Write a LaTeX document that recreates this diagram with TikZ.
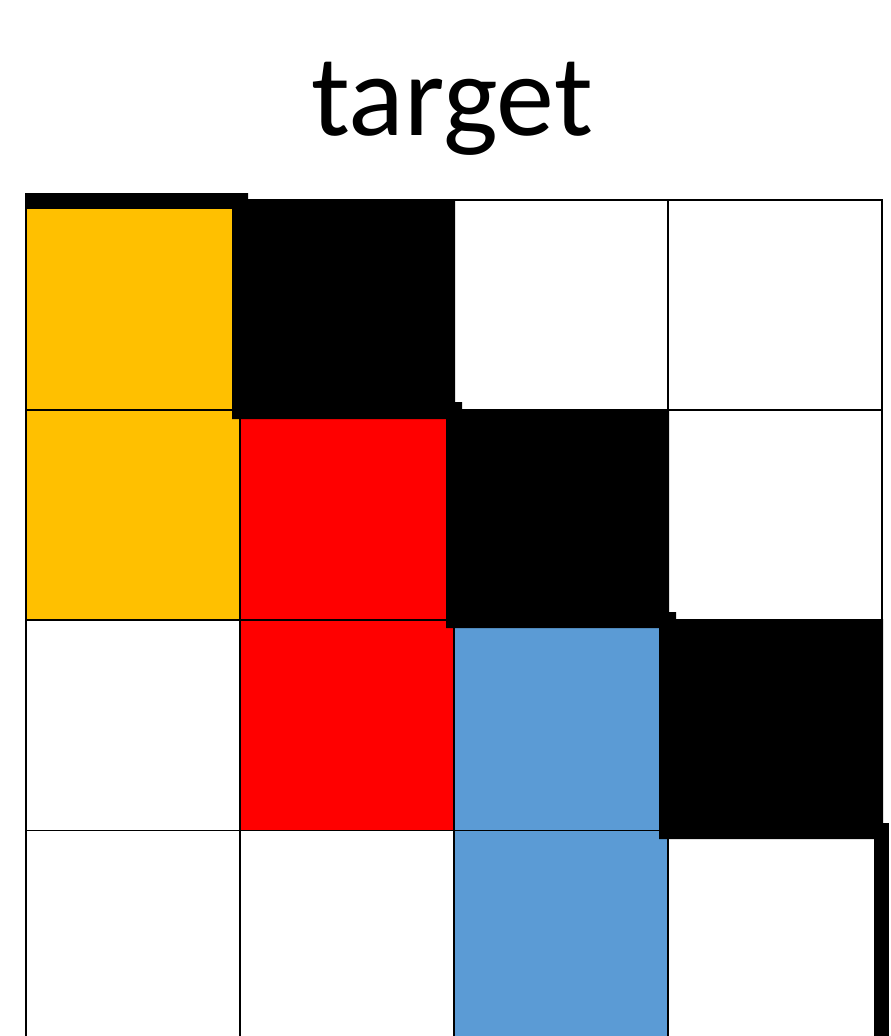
\documentclass[tikz,border=0pt]{standalone}
\usepackage{fontspec}
\setmainfont{Carlito}
\definecolor{cellyellow}{HTML}{FFC000}
\definecolor{cellred}{HTML}{FF0000}
\definecolor{cellblue}{HTML}{5B9BD5}
\tikzset{
  gridline/.style={draw=black, line width=1.5pt},
  blackblock/.style={fill=black},
  titletext/.style={font=\fontsize{116}{126}\selectfont, anchor=base, inner sep=0pt}
}
\begin{document}
\begin{tikzpicture}[x=1pt,y=-1pt]
\useasboundingbox (0,0) rectangle (891,1036);
\clip (0,0) rectangle (891,1036);
% title
\node[titletext] (title) at (452,135) {target};
% coloured cells
\fill[cellyellow] (25,200) rectangle (240,620);
\fill[cellred] (240,410) rectangle (454,830);
\fill[cellblue] (454,620) rectangle (668,1036);
% grid
\foreach \x in {26,240,454,668,882} \draw[gridline] (\x,200) -- (\x,1036);
\foreach \y in {200,410,620,830.5} \draw[gridline] (25,\y) -- (883,\y);
% black blocks
\fill[blackblock] (25,193) rectangle (248,209);
\fill[blackblock] (232,193) -- (248,193) -- (248,200) -- (455,200) -- (455,419) -- (232,419) -- cycle;
\fill[blackblock] (446,402) -- (462,402) -- (462,409) -- (669,409) -- (669,628) -- (446,628) -- cycle;
\fill[blackblock] (659,612) -- (676,612) -- (676,619) -- (883,619) -- (883,839) -- (659,839) -- cycle;
\fill[blackblock] (874,823) rectangle (889,1036);
\end{tikzpicture}
\end{document}
